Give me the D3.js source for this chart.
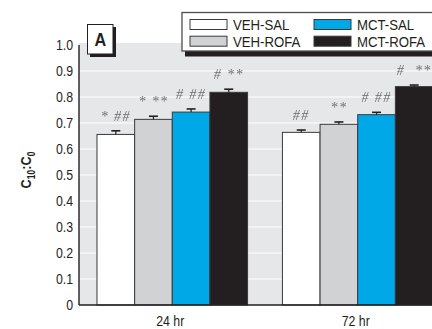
<!DOCTYPE html>
<html>
<head>
<meta charset="utf-8">
<script src="https://cdn.jsdelivr.net/npm/d3@7/dist/d3.min.js"></script>
<style>
  html, body { margin: 0; padding: 0; background: #fff; }
  svg { display: block; }
  .cond { font-family: "Liberation Sans Narrow", "Arial Narrow", "Liberation Sans", sans-serif; }
  .marks { filter: grayscale(1); }
</style>
</head>
<body>
<svg id="chart" width="432" height="329"></svg>
<script>
// Groups (time points) and treatment series
const groups = ["24 hr", "72 hr"];
const series = ["VEH-SAL", "VEH-ROFA", "MCT-SAL", "MCT-ROFA"];

// Mean C10:C0 ratio per series, one array per time point
const means24 = [0.656, 0.714, 0.742, 0.818];
const means72 = [0.664, 0.695, 0.732, 0.840];

// Standard error (upper whisker only)
const err24 = [0.014, 0.012, 0.012, 0.012];
const err72 = [0.009, 0.009, 0.009, 0.006];

// Significance markers above each bar
const marks24 = ["* ##", "* **", "# ##", "# **"];
const marks72 = ["##", "**", "# ##", "#  **"];

// Y tick values and labels
const yTicks = [0, 0.1, 0.2, 0.3, 0.4, 0.5, 0.6, 0.7, 0.8, 0.9, 1.0];
const yTickLabels = ["0", "0.1", "0.2", "0.3", "0.4", "0.5", "0.6", "0.7", "0.8", "0.9", "1.0"];

const colors = ["#ffffff", "#d1d2d4", "#00a8e8", "#231f20"];
const squeeze = 0.88; // horizontal compression giving a condensed face

const rows = groups.map((g, gi) => ({
  group: g,
  values: series.map((s, si) => ({
    series: s,
    idx: si,
    value: gi === 0 ? means24[si] : means72[si],
    err: gi === 0 ? err24[si] : err72[si],
    mark: gi === 0 ? marks24[si] : marks72[si]
  }))
}));

const svg = d3.select("#chart");
const pL = 79, pR = 451, pT = 45, pB = 305;

const y = d3.scaleLinear().domain([0, 1]).range([pB, pT]);
const x0 = d3.scaleBand().domain(groups).range([pL, pR])
  .paddingInner(0.188).paddingOuter(0.097);
const x1 = d3.scaleBand().domain(series).range([0, x0.bandwidth()]);

// Plot background
svg.append("rect")
  .attr("x", pL).attr("y", pT - 2)
  .attr("width", pR - pL).attr("height", pB - pT + 2)
  .attr("fill", "#e6e7e8");

// Horizontal grid lines
svg.append("g").selectAll("line")
  .data(yTicks.filter(t => t > 0 && t < 1))
  .join("line")
  .attr("x1", pL).attr("x2", pR)
  .attr("y1", d => y(d)).attr("y2", d => y(d))
  .attr("stroke", "#ffffff").attr("stroke-width", 1.2);

// Bars
const gGroups = svg.append("g").selectAll("g")
  .data(rows).join("g")
  .attr("transform", d => `translate(${x0(d.group)},0)`);

gGroups.selectAll("rect.bar")
  .data(d => d.values).join("rect")
  .attr("class", "bar")
  .attr("x", d => x1(d.series))
  .attr("y", d => y(d.value))
  .attr("width", x1.bandwidth())
  .attr("height", d => y(0) - y(d.value))
  .attr("fill", d => colors[d.idx])
  .attr("stroke", "#3a3a3a")
  .attr("stroke-width", 1);

// Error bars (upper)
const eb = gGroups.selectAll("g.err")
  .data(d => d.values).join("g").attr("class", "err");
eb.append("line")
  .attr("x1", d => x1(d.series) + x1.bandwidth() / 2)
  .attr("x2", d => x1(d.series) + x1.bandwidth() / 2)
  .attr("y1", d => y(d.value)).attr("y2", d => y(d.value + d.err))
  .attr("stroke", "#231f20").attr("stroke-width", 1.2);
eb.append("line")
  .attr("x1", d => x1(d.series) + x1.bandwidth() / 2 - 4.5)
  .attr("x2", d => x1(d.series) + x1.bandwidth() / 2 + 4.5)
  .attr("y1", d => y(d.value + d.err)).attr("y2", d => y(d.value + d.err))
  .attr("stroke", "#231f20").attr("stroke-width", 1.6);

// Significance markers
gGroups.append("g").attr("class", "marks")
  .selectAll("text.mark")
  .data(d => d.values).join("text")
  .attr("class", "mark")
  .attr("x", d => x1(d.series) + x1.bandwidth() / 2)
  .attr("y", d => y(d.value + d.err) - 10)
  .attr("text-anchor", "middle")
  .attr("font-family", "'Liberation Serif', serif")
  .attr("font-style", "italic")
  .attr("font-size", 14)
  .attr("letter-spacing", 1.4)
  .attr("fill", "#6d6e70")
  .style("white-space", "pre")
  .text(d => d.mark);

// Axis lines
svg.append("line").attr("x1", pL).attr("x2", pL)
  .attr("y1", pT).attr("y2", pB)
  .attr("stroke", "#231f20").attr("stroke-width", 1.4);
svg.append("line").attr("x1", pL).attr("x2", pR)
  .attr("y1", pB).attr("y2", pB)
  .attr("stroke", "#231f20").attr("stroke-width", 1.4);

// Y tick labels
svg.append("g").attr("class", "cond").selectAll("text")
  .data(yTicks).join("text")
  .attr("transform", d => `translate(73,${y(d) + 5}) scale(${squeeze},1)`)
  .attr("text-anchor", "end")
  .attr("font-size", 14).attr("fill", "#231f20")
  .text((d, i) => yTickLabels[i]);

// X category labels
svg.append("g").attr("class", "cond").selectAll("text")
  .data(groups).join("text")
  .attr("transform", d => `translate(${x0(d) + x0.bandwidth() / 2 - 2},325.5) scale(${squeeze},1)`)
  .attr("text-anchor", "middle")
  .attr("font-size", 14).attr("fill", "#231f20")
  .text(d => d);

// Y axis title: C10:C0
const yt = svg.append("text").attr("class", "cond")
  .attr("transform", "translate(31,170) rotate(-90) scale(0.85,1)")
  .attr("text-anchor", "middle")
  .attr("font-size", 15).attr("font-weight", "bold").attr("fill", "#231f20");
yt.append("tspan").text("C");
yt.append("tspan").attr("font-size", 10).attr("dy", 4).text("10");
yt.append("tspan").attr("dy", -4).text(":");
yt.append("tspan").text("C");
yt.append("tspan").attr("font-size", 10).attr("dy", 4).text("0");

// Panel letter box with drop shadow
svg.append("rect").attr("x", 90).attr("y", 27).attr("width", 26).attr("height", 30).attr("fill", "#231f20");
svg.append("rect").attr("x", 87.5).attr("y", 24.5).attr("width", 25.5).attr("height", 29.5)
  .attr("fill", "#fff").attr("stroke", "#231f20").attr("stroke-width", 1);
svg.append("text").attr("class", "cond")
  .attr("transform", "translate(100.3,46) scale(0.9,1)")
  .attr("text-anchor", "middle")
  .attr("font-size", 18).attr("font-weight", "bold").attr("fill", "#231f20")
  .text("A");

// Legend box with drop shadow
const lgX = 182, lgY = 12.5;
svg.append("rect").attr("x", lgX + 3).attr("y", lgY + 5).attr("width", 300).attr("height", 39).attr("fill", "#231f20");
svg.append("rect").attr("x", lgX).attr("y", lgY).attr("width", 300).attr("height", 38.5)
  .attr("fill", "#fff").attr("stroke", "#4d4d4f").attr("stroke-width", 1.3);

const legendItems = series.map((s, i) => ({ name: s, idx: i, col: Math.floor(i / 2), row: i % 2 }));
const lg = svg.append("g").selectAll("g").data(legendItems).join("g")
  .attr("transform", d => `translate(${lgX + 8 + d.col * 124},${lgY + 7 + d.row * 16.7})`);
lg.append("rect")
  .attr("width", 37).attr("height", 10)
  .attr("fill", d => colors[d.idx])
  .attr("stroke", "#3a3a3a").attr("stroke-width", 1);
lg.append("text").attr("class", "cond")
  .attr("transform", `translate(43,10.5) scale(${squeeze},1)`)
  .attr("font-size", 15).attr("fill", "#231f20")
  .text(d => d.name);
</script>
</body>
</html>
